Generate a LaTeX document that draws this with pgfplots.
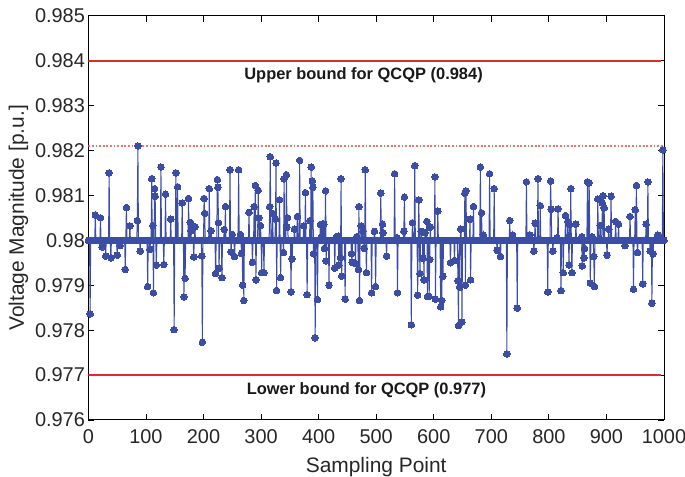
\documentclass[border=0pt]{standalone}
\usepackage{fontspec}
\setmainfont{Liberation Sans}
\usepackage{pgfplots}
\pgfplotsset{compat=1.18}
\usetikzlibrary{calc}
\definecolor{dblue}{RGB}{59,77,165}
\definecolor{bred}{RGB}{222,45,38}
\begin{document}
\begin{tikzpicture}
\begin{axis}[
  scale only axis, width=575.6bp, height=404.3bp,
  xmin=0, xmax=1000, ymin=0.976, ymax=0.985,
  xtick={0,100,200,300,400,500,600,700,800,900,1000},
  ytick={0.976,0.977,0.978,0.979,0.98,0.981,0.982,0.983,0.984,0.985},
  scaled x ticks=false, scaled y ticks=false,
  yticklabel style={/pgf/number format/fixed, /pgf/number format/precision=3},
  xticklabel style={yshift=-6bp, /pgf/number format/fixed, /pgf/number format/1000 sep={}},
  /pgf/number format/assume math mode=true,
  ticklabel style={font=\fontsize{20}{23}\selectfont, text=black!85},
  label style={font=\fontsize{21}{25}\selectfont, text=black!85},
  xlabel style={yshift=-7bp},
  xlabel={Sampling Point},
  ylabel={Voltage Magnitude [p.u.]},
  tick align=inside, major tick length=6bp,
  tick style={black, line width=0.8bp},
  axis line style={black, line width=1bp},
]
\addplot[bred!65, line width=1.2bp, dash pattern=on 1.8bp off 1.8bp, forget plot] coordinates {(0,0.9821) (1000,0.9821)};
\addplot[bred, line width=2.2bp, forget plot] coordinates {(0,0.984) (995,0.984)};
\addplot[bred, line width=2.2bp, forget plot] coordinates {(0,0.977) (995,0.977)};
\addplot[dblue, line width=7bp, forget plot] coordinates {(0,0.98) (1000,0.98)};
\addplot[dblue, line width=1bp, mark=*, mark size=3.3bp, mark options={fill=dblue, draw=dblue, line width=0bp}] coordinates {
(0,0.98) (2,0.98) (3,0.97836) (4,0.98) (11,0.98) (12,0.98056) (13,0.98) (20,0.98) (21,0.98050) (22,0.98) (23,0.98) (24,0.97985) (25,0.98)
(29,0.98) (30,0.97965) (31,0.98) (35,0.98) (36,0.98150) (37,0.98) (38,0.98) (39,0.97961) (40,0.98) (49,0.98) (50,0.97967) (51,0.98)
(54,0.98) (55,0.97988) (56,0.98) (63,0.98) (64,0.97935) (65,0.98) (66,0.98073) (67,0.98) (71,0.98) (72,0.98032) (73,0.98)
(84,0.98) (85,0.98044) (86,0.98210) (87,0.98) (89,0.98) (90,0.97976) (91,0.98) (102,0.98) (103,0.97897) (104,0.98)
(106,0.98) (107,0.97980) (108,0.98) (109,0.98) (110,0.98137) (111,0.98) (112,0.98033) (113,0.97883) (114,0.98) (115,0.98115) (116,0.98098) (117,0.98) (118,0.97945) (119,0.98)
(125,0.98) (126,0.98163) (127,0.98) (130,0.98) (131,0.97946) (132,0.98) (133,0.98) (134,0.98103) (135,0.98) (142,0.98) (143,0.98047) (144,0.98)
(148,0.98) (149,0.97801) (150,0.98) (151,0.98) (152,0.98150) (153,0.98) (154,0.98) (155,0.98119) (156,0.98) (162,0.98) (163,0.98083) (164,0.98)
(165,0.98) (166,0.97874) (167,0.98) (168,0.97915) (169,0.98) (173,0.98) (174,0.98093) (175,0.98) (176,0.98) (177,0.98040) (178,0.98021) (179,0.98)
(182,0.98) (183,0.97963) (184,0.98) (185,0.98030) (186,0.98) (196,0.98) (197,0.97965) (198,0.97773) (199,0.98) (200,0.98) (201,0.98093) (202,0.98060) (203,0.98)
(209,0.98) (210,0.98115) (211,0.98) (212,0.98) (213,0.98021) (214,0.98) (220,0.98) (221,0.97926) (222,0.98) (223,0.98) (224,0.98135) (225,0.98118) (226,0.98039) (227,0.97938) (228,0.98)
(231,0.98) (232,0.97917) (233,0.98) (235,0.98) (236,0.98024) (237,0.98) (238,0.98075) (239,0.98) (245,0.98) (246,0.98157) (247,0.98) (248,0.97974) (249,0.98) (250,0.98013) (251,0.98)
(253,0.98) (254,0.97964) (255,0.98) (260,0.98) (261,0.98157) (262,0.98) (263,0.98) (264,0.98013) (265,0.98) (266,0.97971) (267,0.98) (268,0.97900) (269,0.98) (270,0.97866) (271,0.98)
(278,0.98) (279,0.98062) (280,0.98) (284,0.98) (285,0.97951) (286,0.98) (287,0.98) (288,0.98075) (289,0.98) (290,0.98122) (291,0.97912) (292,0.98)
(294,0.98) (295,0.98111) (296,0.98050) (297,0.98) (298,0.98) (299,0.98033) (300,0.98) (301,0.97928) (302,0.98) (304,0.98) (305,0.97928) (306,0.98)
(314,0.98) (315,0.98075) (316,0.98186) (317,0.98) (319,0.98) (320,0.98060) (321,0.98) (324,0.98) (325,0.98047) (326,0.98172) (327,0.97888) (328,0.98)
(331,0.98) (332,0.98090) (333,0.98) (334,0.97917) (335,0.98) (338,0.98) (339,0.97973) (340,0.98137) (341,0.98) (343,0.98) (344,0.98146) (345,0.98029) (346,0.98050) (347,0.98)
(351,0.98) (352,0.97885) (353,0.98) (354,0.97959) (355,0.98) (357,0.98) (358,0.98025) (359,0.98) (362,0.98) (363,0.98053) (364,0.98) (366,0.98) (367,0.98178) (368,0.98)
(373,0.98) (374,0.98032) (375,0.98) (376,0.98) (377,0.98106) (378,0.98) (379,0.98) (380,0.97879) (381,0.98) (384,0.98) (385,0.98044) (386,0.98) (387,0.98163) (388,0.98)
(389,0.98132) (390,0.98118) (391,0.97970) (392,0.98) (393,0.98) (394,0.97783) (395,0.98) (397,0.98) (398,0.97868) (399,0.98) (402,0.98) (403,0.98035) (404,0.98)
(405,0.98008) (406,0.98036) (407,0.98) (408,0.98) (409,0.98036) (410,0.97982) (411,0.98) (412,0.98110) (413,0.97954) (414,0.98) (417,0.98) (418,0.97900) (419,0.98)
(427,0.98) (428,0.97938) (429,0.98) (430,0.98) (431,0.98008) (432,0.98) (433,0.98) (434,0.98009) (435,0.97945) (436,0.98) (437,0.98) (438,0.97961) (439,0.98137) (440,0.97920) (441,0.98)
(445,0.98) (446,0.97869) (447,0.98) (456,0.98) (457,0.97970) (458,0.97951) (459,0.98) (463,0.98) (464,0.97948) (465,0.98) (466,0.98008) (467,0.98)
(468,0.98) (469,0.97935) (470,0.98075) (471,0.97866) (472,0.98) (473,0.98) (474,0.98032) (475,0.98) (476,0.98) (477,0.98020) (478,0.98) (479,0.97982) (480,0.98)
(481,0.98157) (482,0.98) (483,0.97928) (484,0.98) (491,0.98) (492,0.97883) (493,0.98) (496,0.98) (497,0.98020) (498,0.98) (499,0.97897) (500,0.98)
(507,0.98) (508,0.98105) (509,0.98) (510,0.98) (511,0.98036) (512,0.98017) (513,0.98) (517,0.98) (518,0.97965) (519,0.98) (531,0.98) (532,0.98148) (533,0.98)
(535,0.98) (536,0.98006) (537,0.97883) (538,0.98) (547,0.98) (548,0.98020) (549,0.98096) (550,0.98) (560,0.98) (561,0.97812) (562,0.98) (563,0.98039) (564,0.98)
(566,0.98) (567,0.98166) (568,0.98) (571,0.98) (572,0.97878) (573,0.98) (574,0.98090) (575,0.98) (576,0.97926) (577,0.98) (578,0.98020) (579,0.98)
(580,0.98) (581,0.97960) (582,0.98) (583,0.97912) (584,0.98) (585,0.98017) (586,0.98) (587,0.98) (588,0.98042) (589,0.97875) (590,0.98)
(591,0.98) (592,0.97875) (593,0.97957) (594,0.98029) (595,0.98) (601,0.98) (602,0.98141) (603,0.97869) (604,0.98) (606,0.98) (607,0.98065) (608,0.98)
(611,0.98) (612,0.97852) (613,0.98) (614,0.97866) (615,0.98) (616,0.97920) (617,0.98) (628,0.98) (629,0.97950) (630,0.98) (635,0.98) (636,0.97955) (637,0.98)
(641,0.98) (642,0.97910) (643,0.97810) (644,0.98) (645,0.97896) (646,0.98) (647,0.98025) (648,0.98) (649,0.97818) (650,0.98)
(653,0.98) (654,0.98105) (655,0.97900) (656,0.98110) (657,0.98) (662,0.98) (663,0.98047) (664,0.97912) (665,0.98) (668,0.98) (669,0.98075) (670,0.98)
(680,0.98) (681,0.98163) (682,0.98) (683,0.98061) (684,0.98) (685,0.98) (686,0.98012) (687,0.98) (696,0.98) (697,0.98148) (698,0.98)
(704,0.98) (705,0.98115) (706,0.98) (709,0.98) (710,0.97978) (711,0.98) (715,0.98) (716,0.97964) (717,0.98) (726,0.98) (727,0.97747) (728,0.98)
(731,0.98) (732,0.98044) (733,0.98) (736,0.98) (737,0.98012) (738,0.98) (744,0.98) (745,0.97849) (746,0.98) (760,0.98) (761,0.98130) (762,0.98)
(766,0.98) (767,0.98012) (768,0.98) (773,0.98) (774,0.97976) (775,0.98) (776,0.98038) (777,0.98) (780,0.98) (781,0.98137) (782,0.98) (784,0.98) (785,0.98077) (786,0.98)
(797,0.98) (798,0.97885) (799,0.98) (802,0.98) (803,0.98132) (804,0.98069) (805,0.98) (806,0.98) (807,0.97976) (808,0.98)
(813,0.98) (814,0.98005) (815,0.98) (816,0.98070) (817,0.98) (820,0.98) (821,0.97888) (822,0.98) (824,0.98) (825,0.97928) (826,0.98)
(828,0.98) (829,0.98055) (830,0.98) (832,0.98) (833,0.98042) (834,0.98) (835,0.97945) (836,0.98035) (837,0.98) (838,0.98115) (839,0.98) (840,0.97928) (841,0.98)
(846,0.98) (847,0.98036) (848,0.98) (856,0.98) (857,0.98008) (858,0.97943) (859,0.98) (860,0.98) (861,0.97961) (862,0.97982) (863,0.98)
(866,0.98) (867,0.98130) (868,0.98) (869,0.98) (870,0.98128) (871,0.98) (872,0.97905) (873,0.98) (874,0.98) (875,0.98008) (876,0.98)
(877,0.98) (878,0.97964) (879,0.97897) (880,0.98) (884,0.98) (885,0.98092) (886,0.98) (888,0.98) (889,0.98033) (890,0.98)
(892,0.98) (893,0.98083) (894,0.98099) (895,0.98) (896,0.98072) (897,0.98) (900,0.98) (901,0.97967) (902,0.98) (903,0.98) (904,0.98025) (905,0.98)
(907,0.98) (908,0.98098) (909,0.98) (915,0.98) (916,0.98042) (917,0.98) (920,0.98) (921,0.98036) (922,0.98) (931,0.98) (932,0.97988) (933,0.98)
(940,0.98) (941,0.98053) (942,0.98) (946,0.98) (947,0.97891) (948,0.98) (949,0.98) (950,0.98068) (951,0.98) (952,0.98122) (953,0.98) (954,0.97973) (955,0.98)
(962,0.98) (963,0.97903) (964,0.98) (968,0.98) (969,0.98036) (970,0.98) (971,0.98) (972,0.98130) (973,0.98) (975,0.98) (976,0.97976) (977,0.98)
(978,0.98) (979,0.97860) (980,0.98) (981,0.97970) (982,0.98) (988,0.98) (989,0.98012) (990,0.98) (993,0.98) (994,0.98008) (995,0.98)
(997,0.98) (998,0.98201) (999,0.98) (1000,0.98)
};
\node[font=\bfseries\fontsize{16.5}{19}\selectfont, text=black!90] at (axis cs:478,0.98368) {Upper bound for QCQP (0.984)};
\node[font=\bfseries\fontsize{16.5}{19}\selectfont, text=black!90] at (axis cs:483,0.97666) {Lower bound for QCQP (0.977)};
\end{axis}
\pgfresetboundingbox
\path ($(current axis.south west)+(-88.4bp,-57bp)$) rectangle ($(current axis.north east)+(21bp,15.7bp)$);
\end{tikzpicture}
\end{document}
